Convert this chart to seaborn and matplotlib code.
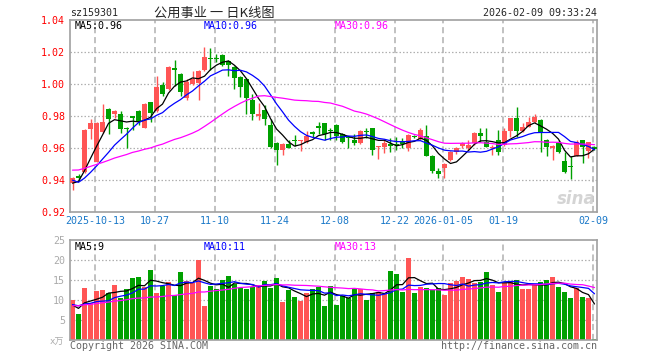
import numpy as np
import pandas as pd
import matplotlib
matplotlib.use("Agg")
import matplotlib.pyplot as plt
import seaborn as sns

# ---------------- data ----------------
ticker = "sz159301"
title = "公用事业 一 日K线图"
timestamp = "2026-02-09 09:33:24"
price_ma_labels = ["MA5:0.96", "MA10:0.96", "MA30:0.96"]
vol_ma_labels = ["MA5:9", "MA10:11", "MA30:13"]

date_labels = ["2025-10-13", "10-27", "11-10", "11-24", "12-08",
               "12-22", "2026-01-05", "01-19", "02-09"]
date_idx = [4, 14, 24, 34, 44, 54, 62, 72, 87]

price_ticks = [0.92, 0.94, 0.96, 0.98, 1.00, 1.02, 1.04]
vol_ticks = [5, 10, 15, 20, 25]

opens = [0.938, 0.9425, 0.945, 0.972, 0.9515, 0.970, 0.9845, 0.9815, 0.9815, 0.9722,
         0.9795, 0.9833, 0.9727, 0.9885, 0.983, 0.9995, 0.997, 1.0098, 1.0065, 0.9915,
         1.0002, 1.0005, 1.0085, 1.016, 1.0162, 1.0183, 1.0145, 1.0104, 1.0045, 1.003,
         0.9898, 0.9797, 0.984, 0.9745, 0.9634, 0.9585, 0.9625, 0.9648, 0.9645, 0.9635,
         0.9695, 0.9732, 0.9755, 0.971, 0.9744, 0.9686, 0.9662, 0.9651, 0.963, 0.9704,
         0.9723, 0.9607, 0.9605, 0.962, 0.9625, 0.9645, 0.960, 0.9673, 0.9655, 0.9676,
         0.955, 0.9455, 0.9475, 0.9527, 0.9578, 0.961, 0.960, 0.963, 0.9696, 0.964,
         0.9598, 0.965, 0.962, 0.9709, 0.9785, 0.9709, 0.9734, 0.9761, 0.9775, 0.9647,
         0.9603, 0.963, 0.9516, 0.9487, 0.9551, 0.9647, 0.9584, 0.9605]
highs = [0.942, 0.9435, 0.972, 0.978, 0.976, 0.9875, 0.985, 0.9835, 0.983, 0.973,
         0.980, 0.984, 0.988, 0.989, 1.005, 1.001, 1.011, 1.015, 1.007, 1.003,
         1.008, 1.0085, 1.023, 1.0225, 1.0185, 1.019, 1.015, 1.011, 1.005, 1.004,
         0.994, 0.988, 0.987, 0.978, 0.964, 0.963, 0.965, 0.968, 0.965, 0.9705,
         0.9705, 0.976, 0.9755, 0.9727, 0.975, 0.9696, 0.967, 0.9686, 0.9713, 0.9723,
         0.9725, 0.9612, 0.965, 0.966, 0.967, 0.9665, 0.9685, 0.9683, 0.9723, 0.9745,
         0.9555, 0.9475, 0.9505, 0.9582, 0.9605, 0.9635, 0.965, 0.9702, 0.9727, 0.9725,
         0.962, 0.9713, 0.9723, 0.979, 0.9858, 0.9755, 0.9796, 0.9812, 0.978, 0.9655,
         0.962, 0.965, 0.9578, 0.9547, 0.9647, 0.965, 0.964, 0.9613]
lows = [0.934, 0.9395, 0.9445, 0.9655, 0.951, 0.9695, 0.969, 0.979, 0.9695, 0.960,
        0.971, 0.9745, 0.9725, 0.976, 0.9825, 0.9925, 0.9965, 0.999, 0.9925, 0.990,
        0.9995, 0.990, 1.008, 1.009, 1.0135, 1.011, 1.005, 0.997, 0.992, 0.981,
        0.9775, 0.9775, 0.9745, 0.960, 0.9495, 0.9558, 0.9598, 0.961, 0.958, 0.963,
        0.9667, 0.9686, 0.965, 0.965, 0.965, 0.963, 0.960, 0.962, 0.9626, 0.966,
        0.9557, 0.953, 0.957, 0.9575, 0.959, 0.9598, 0.958, 0.966, 0.965, 0.9547,
        0.9445, 0.9412, 0.9412, 0.952, 0.9565, 0.960, 0.959, 0.962, 0.964, 0.9605,
        0.9557, 0.9557, 0.9613, 0.9671, 0.9671, 0.970, 0.973, 0.9755, 0.9578, 0.9547,
        0.9526, 0.957, 0.9445, 0.9406, 0.9547, 0.9505, 0.9537, 0.959]
closes = [0.941, 0.9415, 0.9715, 0.9755, 0.9755, 0.9765, 0.978, 0.983, 0.972, 0.9718,
          0.979, 0.976, 0.9877, 0.982, 0.998, 0.9935, 1.0105, 1.009, 0.995, 1.0015,
          1.003, 1.008, 1.017, 1.0155, 1.0155, 1.012, 1.012, 1.0035, 0.998, 0.991,
          0.9813, 0.9812, 0.978, 0.9605, 0.9585, 0.9625, 0.960, 0.9645, 0.9648, 0.9676,
          0.969, 0.9728, 0.9686, 0.9707, 0.9672, 0.9635, 0.966, 0.963, 0.9707, 0.970,
          0.959, 0.9611, 0.9634, 0.9615, 0.962, 0.9625, 0.968, 0.9669, 0.9713, 0.955,
          0.9454, 0.944, 0.950, 0.9572, 0.960, 0.963, 0.962, 0.9696, 0.9676, 0.9606,
          0.960, 0.9578, 0.9709, 0.9785, 0.9709, 0.9734, 0.9761, 0.9796, 0.9692, 0.9605,
          0.9606, 0.9578, 0.9448, 0.9483, 0.964, 0.9609, 0.964, 0.9595]
volumes = [10.0, 6.5, 13.0, 9.2, 12.25, 12.5, 11.7, 13.75, 10.6, 12.75,
           15.5, 15.75, 13.2, 17.5, 11.7, 13.5, 14.5, 11.25, 17.0, 14.8,
           14.2, 20.0, 8.5, 13.5, 12.8, 15.0, 16.0, 14.0, 12.9, 12.75,
           13.3, 13.75, 14.75, 13.0, 15.5, 9.5, 12.5, 10.75, 9.75, 11.75,
           12.75, 13.25, 8.5, 13.5, 8.75, 11.0, 10.5, 13.0, 12.75, 10.0,
           11.75, 12.0, 11.5, 17.25, 16.5, 12.0, 20.5, 11.75, 13.25, 13.0,
           12.5, 13.0, 11.25, 14.25, 14.75, 15.75, 15.25, 14.25, 14.5, 17.0,
           13.75, 12.0, 14.25, 14.75, 15.0, 12.75, 12.75, 13.75, 14.5, 15.0,
           15.75, 13.25, 12.0, 10.5, 13.0, 10.75, 10.5, 0.25]

# closes / volumes of the 29 sessions before the visible window (feed the moving averages)
pre_closes = [0.939, 0.940, 0.939, 0.939, 0.940, 0.938, 0.940, 0.939, 0.939, 0.939,
              0.950, 0.955, 0.957, 0.958, 0.962, 0.965, 0.966, 0.963, 0.960, 0.958,
              0.955, 0.945, 0.940, 0.936, 0.933, 0.936, 0.938, 0.937, 0.938]
pre_volumes = [6.5, 5.8, 6.4, 6.0, 6.3, 7.0, 6.2, 6.8, 6.5, 7.0,
               12.0, 11.5, 10.8, 11.7, 9.5, 8.8, 9.3, 10.5, 9.8, 10.2,
               9.5, 8.5, 7.5, 8.0, 11.25, 10.75, 6.0, 7.0, 10.0]

# ---------------- styling ----------------
RED = "#ff5555"
GREEN = "#00a000"
FRAME = "#a0a0a0"
GRID = "#b0b0b0"
MONO = "DejaVu Sans Mono"
FS = 7.2

sns.set_theme(style="white")
plt.rcParams["font.family"] = [MONO, "Noto Sans CJK SC"]

W, H = 660, 360
fig = plt.figure(figsize=(W / 100, H / 100), dpi=100)
fig.patch.set_facecolor("white")


def px(x, y):
    return x / W, 1 - y / H


ax1 = fig.add_axes([70 / W, 1 - 212 / H, 527 / W, 192 / H])
ax2 = fig.add_axes([70 / W, 1 - 340 / H, 527 / W, 100 / H])

n = len(closes)
idx = np.arange(n)
o = np.array(opens); c = np.array(closes)
hi = np.array(highs); lo = np.array(lows)
up = c >= o
colors = np.where(up, RED, GREEN)

df = pd.DataFrame({"i": idx, "close": c, "vol": volumes})
full_c = pd.Series(pre_closes + closes)
full_v = pd.Series(pre_volumes + volumes)
k = len(pre_closes)
for w in (5, 10, 30):
    df[f"ma{w}"] = full_c.rolling(w).mean().iloc[k:].to_numpy()
    df[f"vma{w}"] = full_v.rolling(w).mean().iloc[k:].to_numpy()

XL = (-2.5 / 6, (597 - 72.5) / 6)
bw = 5 / 6

for ax in (ax1, ax2):
    ax.set_xlim(*XL)
    for s in ax.spines.values():
        s.set_color(FRAME)
        s.set_linewidth(1.2)
    for d in date_idx:
        ax.axvline(d - 0.25, color=GRID, lw=1.1, ls=(0, (4, 2.5)), zorder=0)
    ax.tick_params(length=0)

# ---- price panel ----
ax1.set_ylim(0.92, 1.04)
for t in price_ticks[1:-1]:
    ax1.axhline(t, color=GRID, lw=0.9, ls=(0, (1.2, 1.6)), zorder=0)
ax1.vlines(idx, lo, hi, colors=colors, lw=1.0, zorder=2)
body_h = np.maximum(np.abs(c - o), 0.0007)
ax1.bar(idx, body_h, bottom=np.minimum(o, c), width=bw, color=colors,
        linewidth=0, zorder=3)
for col, clr in (("ma5", "black"), ("ma10", "#0000ff"), ("ma30", "#ff00ff")):
    sns.lineplot(data=df, x="i", y=col, ax=ax1, color=clr, lw=0.9, zorder=4)
ax1.set_xlabel(""); ax1.set_ylabel("")
ax1.set_yticks(price_ticks)
ax1.set_yticklabels([f"{t:.2f}" for t in price_ticks], color="#ff0000",
                    fontsize=FS, family=MONO)
ax1.tick_params(axis="y", pad=3.5)
ax1.set_xticks([d - 0.25 for d in date_idx])
ax1.set_xticklabels(date_labels, color="#1a78c8", fontsize=FS, family=MONO)
ax1.tick_params(axis="x", pad=3)

# ---- volume panel ----
ax2.set_ylim(0, 25)
for t in vol_ticks[:-1]:
    ax2.axhline(t, color=GRID, lw=0.9, ls=(0, (1.2, 1.6)), zorder=0)
ax2.bar(idx, volumes, width=bw, color=colors, linewidth=0, zorder=2)
for col, clr in (("vma5", "black"), ("vma10", "#0000ff"), ("vma30", "#ff00ff")):
    sns.lineplot(data=df, x="i", y=col, ax=ax2, color=clr, lw=0.9, zorder=4)
ax2.set_xlabel(""); ax2.set_ylabel("")
ax2.set_xticks([])
ax2.set_yticks(vol_ticks)
ax2.set_yticklabels([str(t) for t in vol_ticks], color="#aaaaaa",
                    fontsize=FS, family=MONO)
ax2.tick_params(axis="y", pad=3.5)

# ---- texts ----
fig.text(*px(70, 13), ticker, fontsize=FS, family=MONO, va="center", ha="left")
fig.text(*px(214, 13), title, fontsize=9.5, family=["Noto Sans CJK SC", "DejaVu Sans"],
         va="center", ha="center")
fig.text(*px(597, 13), timestamp, fontsize=FS, family=MONO, va="center", ha="right")

for (xp, lab, clr) in zip((75, 204, 335), price_ma_labels, ("black", "#0000ff", "#ff00ff")):
    fig.text(*px(xp, 26), lab, fontsize=FS, family=MONO, color=clr, va="center", ha="left")
for (xp, lab, clr) in zip((75, 204, 335), vol_ma_labels, ("black", "#0000ff", "#ff00ff")):
    fig.text(*px(xp, 247), lab, fontsize=FS, family=MONO, color=clr, va="center", ha="left")

fig.text(*px(64, 342), "x万", fontsize=6.5, family=["DejaVu Sans Mono", "Noto Sans CJK SC"],
         color="#aaaaaa", va="center", ha="right")
fig.text(*px(70, 346), "Copyright 2026 SINA.COM", fontsize=FS, family=MONO,
         color="#666666", va="center", ha="left")
fig.text(*px(597, 346), "http://finance.sina.com.cn", fontsize=FS, family=MONO,
         color="#666666", va="center", ha="right")
fig.text(*px(596, 199), "sina", fontsize=12, fontweight="bold", style="italic",
         family="DejaVu Sans", color="#d0d0d0", va="center", ha="right", alpha=0.9)

fig.savefig("out.png", dpi=100, facecolor="white")
